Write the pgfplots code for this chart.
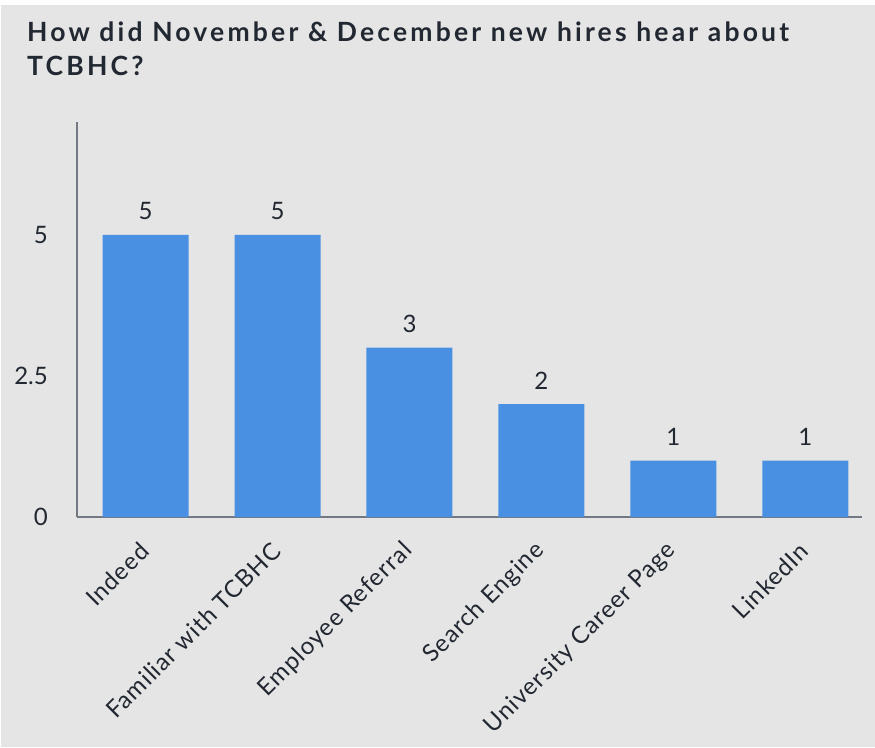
\documentclass[border=0pt]{standalone}
\usepackage{fontspec}
\setmainfont{Lato}
\newfontfamily\titlefont{Lato}[LetterSpace=12]
\newfontfamily\labfont{Lato}[LetterSpace=4]
\usepackage{pgfplots}
\pgfplotsset{compat=1.18}
\definecolor{bg}{HTML}{E5E5E5}
\definecolor{barc}{HTML}{4A90E2}
\definecolor{axisc}{HTML}{737983}
\definecolor{txt}{HTML}{222831}
\begin{document}
\begin{tikzpicture}
\useasboundingbox (0pt,0pt) rectangle (875pt,747pt);
\fill[white] (0pt,0pt) rectangle (875pt,747pt);
\fill[bg] (1pt,0pt) rectangle (875pt,742pt);
\node[anchor=base west, inner sep=0, font=\titlefont\bfseries\fontsize{26.5}{30}\selectfont, text=txt] at (27pt,705pt) {How did November \& December new hires hear about};
\node[anchor=base west, inner sep=0, font=\titlefont\bfseries\fontsize{26.5}{30}\selectfont, text=txt] at (27pt,671pt) {TCBHC?};
\begin{axis}[
  name=ax,
  at={(77pt,230pt)}, anchor=south west,
  scale only axis, width=785pt, height=395pt,
  xmin=-0.52, xmax=5.43, ymin=0, ymax=7,
  axis lines*=left,
  axis line style={axisc, line width=1.5pt, -},
  major tick length=0pt,
  ytick={0,2.5,5}, yticklabels={0,2.5,5},
  xtick={0,1,2,3,4,5},
  xticklabels={Indeed,Familiar with TCBHC,Employee Referral,Search Engine,University Career Page,LinkedIn},
  tick label style={font=\fontsize{24}{28}\selectfont, text=txt},
  yticklabel style={anchor=east, inner sep=0pt, xshift=-29pt},
  xticklabel style={font=\labfont\fontsize{24}{28}\selectfont, xshift=-1pt, yshift=-30pt, rotate=45, anchor=east, inner sep=0pt},
  ybar, bar width=86pt,
  clip=false,
  nodes near coords,
  nodes near coords style={font=\fontsize{24}{28}\selectfont, text=txt, anchor=base, inner sep=0pt, yshift=15pt, /pgf/number format/assume math mode=true},
]
\addplot[fill=barc, draw=none] coordinates {(0,5) (1,5) (2,3) (3,2) (4,1) (5,1)};
\end{axis}
\end{tikzpicture}
\end{document}
